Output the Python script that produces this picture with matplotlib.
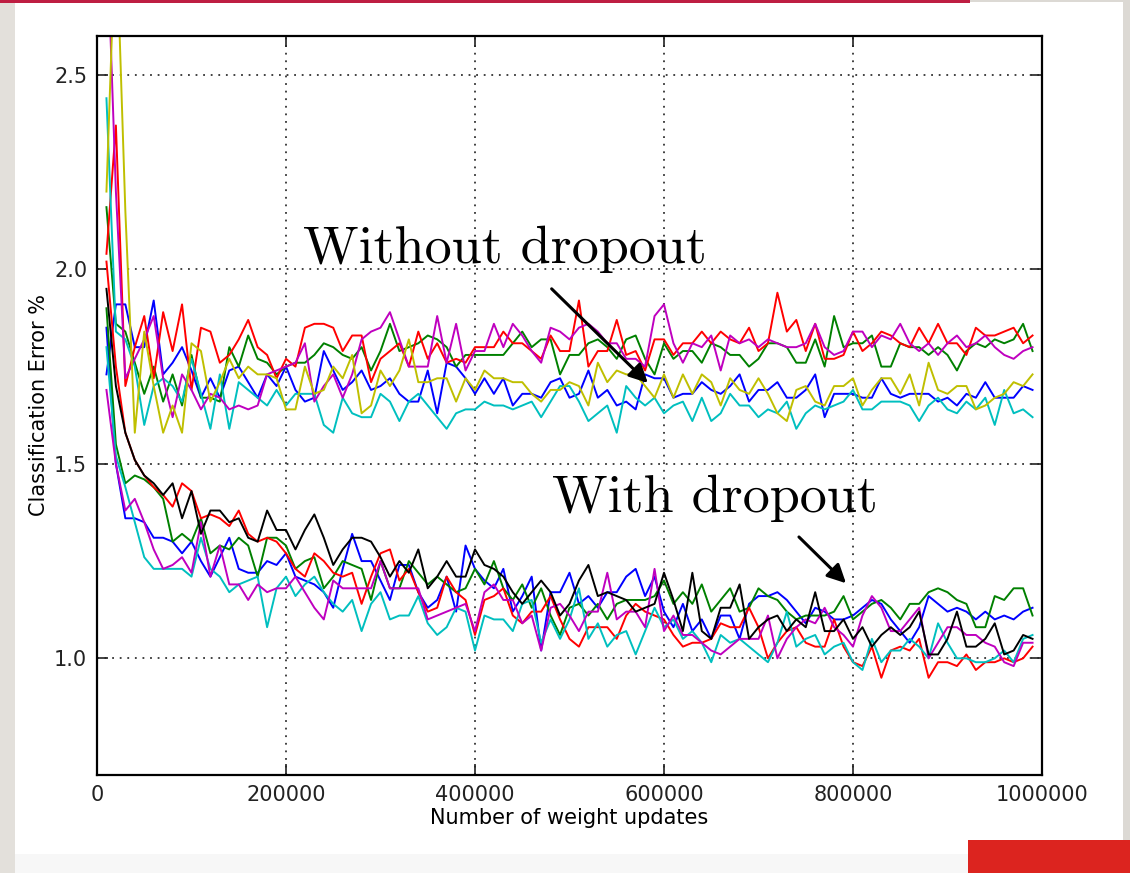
import numpy as np
import matplotlib
matplotlib.use("Agg")
import matplotlib.pyplot as plt
from matplotlib.patches import Rectangle
from matplotlib.ticker import FormatStrFormatter

# x positions: one evaluation every 10000 weight updates
updates = np.arange(10000, 1000000, 10000)

# ---- without dropout ----
wo_red = [2.04, 2.37, 1.70, 1.80, 1.88, 1.72, 1.89, 1.79, 1.91, 1.69,
          1.85, 1.84, 1.76, 1.78, 1.82, 1.87, 1.80, 1.78, 1.72, 1.77,
          1.75, 1.85, 1.86, 1.86, 1.85, 1.79, 1.83, 1.83, 1.71, 1.77,
          1.79, 1.81, 1.75, 1.84, 1.77, 1.81, 1.76, 1.77, 1.76, 1.80,
          1.80, 1.80, 1.84, 1.81, 1.81, 1.79, 1.77, 1.83, 1.79, 1.79,
          1.92, 1.75, 1.79, 1.79, 1.87, 1.78, 1.79, 1.74, 1.82, 1.82,
          1.78, 1.81, 1.81, 1.84, 1.81, 1.84, 1.82, 1.81, 1.85, 1.79,
          1.81, 1.94, 1.84, 1.87, 1.79, 1.86, 1.77, 1.77, 1.78, 1.84,
          1.79, 1.81, 1.84, 1.83, 1.81, 1.80, 1.85, 1.81, 1.86, 1.81,
          1.81, 1.78, 1.85, 1.83, 1.83, 1.84, 1.85, 1.81, 1.83]
wo_green = [2.16, 1.86, 1.84, 1.76, 1.68, 1.75, 1.66, 1.73, 1.65, 1.78,
            1.67, 1.67, 1.66, 1.80, 1.75, 1.83, 1.77, 1.76, 1.73, 1.75,
            1.76, 1.76, 1.78, 1.81, 1.80, 1.78, 1.77, 1.80, 1.74, 1.79,
            1.86, 1.79, 1.80, 1.81, 1.83, 1.82, 1.80, 1.75, 1.78, 1.78,
            1.78, 1.78, 1.78, 1.81, 1.84, 1.80, 1.82, 1.82, 1.73, 1.78,
            1.78, 1.81, 1.82, 1.80, 1.77, 1.82, 1.83, 1.77, 1.73, 1.81,
            1.77, 1.79, 1.79, 1.76, 1.81, 1.80, 1.78, 1.78, 1.75, 1.77,
            1.81, 1.81, 1.80, 1.76, 1.76, 1.82, 1.75, 1.88, 1.80, 1.81,
            1.81, 1.83, 1.75, 1.75, 1.81, 1.80, 1.80, 1.78, 1.80, 1.78,
            1.74, 1.79, 1.81, 1.80, 1.82, 1.81, 1.82, 1.86, 1.79]
wo_blue = [1.73, 1.91, 1.91, 1.80, 1.80, 1.92, 1.73, 1.76, 1.80, 1.74,
           1.67, 1.72, 1.67, 1.74, 1.75, 1.71, 1.67, 1.73, 1.70, 1.75,
           1.69, 1.66, 1.67, 1.79, 1.74, 1.69, 1.71, 1.74, 1.69, 1.70,
           1.72, 1.68, 1.66, 1.66, 1.74, 1.63, 1.76, 1.75, 1.72, 1.68,
           1.72, 1.68, 1.72, 1.65, 1.68, 1.68, 1.67, 1.71, 1.72, 1.67,
           1.68, 1.74, 1.67, 1.69, 1.65, 1.66, 1.64, 1.73, 1.72, 1.72,
           1.67, 1.68, 1.68, 1.71, 1.69, 1.68, 1.70, 1.73, 1.66, 1.69,
           1.69, 1.71, 1.67, 1.67, 1.69, 1.73, 1.62, 1.68, 1.68, 1.68,
           1.67, 1.67, 1.72, 1.68, 1.67, 1.68, 1.68, 1.68, 1.66, 1.67,
           1.65, 1.68, 1.67, 1.71, 1.67, 1.67, 1.67, 1.70, 1.69]
wo_cyan = [2.44, 1.84, 1.82, 1.75, 1.60, 1.70, 1.72, 1.70, 1.66, 1.77,
           1.68, 1.59, 1.73, 1.59, 1.71, 1.69, 1.67, 1.65, 1.69, 1.65,
           1.68, 1.68, 1.68, 1.60, 1.58, 1.67, 1.63, 1.62, 1.62, 1.68,
           1.66, 1.61, 1.66, 1.68, 1.65, 1.62, 1.59, 1.63, 1.64, 1.64,
           1.66, 1.65, 1.65, 1.64, 1.65, 1.66, 1.62, 1.66, 1.70, 1.70,
           1.66, 1.61, 1.63, 1.65, 1.58, 1.70, 1.67, 1.65, 1.67, 1.63,
           1.65, 1.66, 1.61, 1.67, 1.61, 1.63, 1.68, 1.65, 1.65, 1.62,
           1.64, 1.63, 1.66, 1.59, 1.63, 1.65, 1.64, 1.65, 1.66, 1.69,
           1.64, 1.64, 1.66, 1.66, 1.66, 1.65, 1.61, 1.65, 1.67, 1.64,
           1.63, 1.66, 1.64, 1.67, 1.60, 1.69, 1.63, 1.64, 1.62]
wo_magenta = [2.90, 2.20, 1.72, 1.77, 1.82, 1.88, 1.72, 1.62, 1.73, 1.69,
              1.64, 1.68, 1.67, 1.64, 1.65, 1.64, 1.65, 1.73, 1.74, 1.75,
              1.76, 1.81, 1.66, 1.70, 1.73, 1.67, 1.73, 1.82, 1.84, 1.85,
              1.89, 1.82, 1.75, 1.75, 1.75, 1.88, 1.76, 1.86, 1.74, 1.79,
              1.79, 1.86, 1.80, 1.86, 1.83, 1.79, 1.76, 1.85, 1.84, 1.82,
              1.85, 1.86, 1.84, 1.81, 1.81, 1.77, 1.77, 1.75, 1.88, 1.91,
              1.81, 1.76, 1.81, 1.80, 1.83, 1.74, 1.83, 1.81, 1.82, 1.80,
              1.82, 1.81, 1.80, 1.80, 1.81, 1.86, 1.80, 1.78, 1.79, 1.84,
              1.84, 1.80, 1.83, 1.82, 1.86, 1.81, 1.79, 1.81, 1.78, 1.81,
              1.83, 1.80, 1.81, 1.83, 1.80, 1.78, 1.77, 1.79, 1.80]
wo_yellow = [2.20, 2.90, 2.15, 1.58, 1.84, 1.70, 1.58, 1.65, 1.58, 1.81,
             1.79, 1.66, 1.71, 1.77, 1.72, 1.75, 1.73, 1.73, 1.72, 1.64,
             1.64, 1.75, 1.68, 1.69, 1.75, 1.72, 1.78, 1.63, 1.65, 1.74,
             1.70, 1.74, 1.82, 1.71, 1.71, 1.72, 1.72, 1.66, 1.72, 1.69,
             1.74, 1.72, 1.72, 1.71, 1.71, 1.68, 1.66, 1.69, 1.69, 1.71,
             1.70, 1.65, 1.76, 1.71, 1.74, 1.73, 1.73, 1.70, 1.67, 1.73,
             1.67, 1.73, 1.68, 1.73, 1.71, 1.65, 1.72, 1.69, 1.68, 1.72,
             1.68, 1.63, 1.61, 1.69, 1.70, 1.66, 1.65, 1.70, 1.70, 1.72,
             1.65, 1.69, 1.72, 1.72, 1.68, 1.73, 1.65, 1.76, 1.69, 1.68,
             1.70, 1.70, 1.64, 1.65, 1.67, 1.68, 1.71, 1.70, 1.73]

# ---- with dropout ----
wd_black = [1.95, 1.70, 1.58, 1.51, 1.47, 1.45, 1.42, 1.45, 1.36, 1.43,
            1.32, 1.38, 1.38, 1.35, 1.36, 1.31, 1.30, 1.38, 1.33, 1.33,
            1.28, 1.33, 1.37, 1.31, 1.24, 1.28, 1.31, 1.31, 1.30, 1.26,
            1.21, 1.25, 1.22, 1.28, 1.18, 1.21, 1.25, 1.21, 1.21, 1.28,
            1.24, 1.23, 1.21, 1.17, 1.14, 1.17, 1.20, 1.17, 1.11, 1.14,
            1.20, 1.24, 1.16, 1.17, 1.16, 1.15, 1.12, 1.13, 1.14, 1.22,
            1.15, 1.07, 1.22, 1.07, 1.05, 1.13, 1.13, 1.19, 1.05, 1.08,
            1.10, 1.11, 1.07, 1.10, 1.08, 1.17, 1.07, 1.07, 1.10, 1.05,
            1.08, 1.03, 1.06, 1.08, 1.06, 1.08, 1.12, 1.01, 1.01, 1.05,
            1.12, 1.03, 1.03, 1.05, 1.09, 1.01, 1.02, 1.06, 1.05]
wd_red = [2.02, 1.75, 1.58, 1.51, 1.47, 1.44, 1.42, 1.39, 1.45, 1.43,
          1.36, 1.37, 1.36, 1.34, 1.38, 1.32, 1.30, 1.31, 1.30, 1.27,
          1.23, 1.21, 1.27, 1.25, 1.22, 1.21, 1.22, 1.14, 1.21, 1.27,
          1.28, 1.20, 1.23, 1.17, 1.12, 1.13, 1.21, 1.17, 1.15, 1.06,
          1.15, 1.16, 1.18, 1.11, 1.09, 1.12, 1.12, 1.16, 1.10, 1.05,
          1.03, 1.08, 1.08, 1.08, 1.05, 1.11, 1.14, 1.12, 1.11, 1.10,
          1.06, 1.03, 1.04, 1.04, 1.05, 1.09, 1.08, 1.08, 1.13, 1.08,
          1.00, 1.04, 1.07, 1.08, 1.04, 1.03, 1.03, 1.10, 1.03, 0.99,
          0.98, 1.03, 0.95, 1.02, 1.03, 1.02, 1.05, 0.95, 0.99, 0.99,
          0.98, 1.01, 0.97, 0.99, 0.99, 1.00, 0.99, 1.00, 1.03]
wd_green = [1.90, 1.55, 1.45, 1.47, 1.46, 1.44, 1.41, 1.30, 1.32, 1.30,
            1.36, 1.27, 1.29, 1.28, 1.31, 1.29, 1.21, 1.31, 1.31, 1.29,
            1.23, 1.25, 1.26, 1.18, 1.21, 1.25, 1.24, 1.23, 1.15, 1.25,
            1.18, 1.18, 1.25, 1.22, 1.19, 1.21, 1.19, 1.17, 1.18, 1.23,
            1.19, 1.25, 1.18, 1.15, 1.19, 1.13, 1.18, 1.11, 1.06, 1.13,
            1.14, 1.11, 1.14, 1.10, 1.14, 1.15, 1.15, 1.15, 1.16, 1.20,
            1.14, 1.17, 1.14, 1.19, 1.12, 1.15, 1.18, 1.12, 1.13, 1.18,
            1.16, 1.15, 1.12, 1.10, 1.11, 1.11, 1.11, 1.12, 1.16, 1.10,
            1.12, 1.14, 1.15, 1.13, 1.10, 1.14, 1.14, 1.17, 1.18, 1.17,
            1.15, 1.14, 1.08, 1.08, 1.16, 1.15, 1.18, 1.18, 1.11]
wd_blue = [1.85, 1.50, 1.36, 1.36, 1.35, 1.31, 1.31, 1.30, 1.27, 1.30,
           1.25, 1.21, 1.26, 1.31, 1.23, 1.22, 1.22, 1.25, 1.24, 1.27,
           1.21, 1.20, 1.19, 1.17, 1.13, 1.23, 1.32, 1.25, 1.25, 1.20,
           1.15, 1.24, 1.24, 1.17, 1.13, 1.15, 1.21, 1.12, 1.29, 1.23,
           1.20, 1.18, 1.23, 1.12, 1.16, 1.21, 1.02, 1.17, 1.17, 1.22,
           1.14, 1.16, 1.13, 1.17, 1.17, 1.21, 1.23, 1.16, 1.21, 1.12,
           1.08, 1.14, 1.07, 1.10, 1.05, 1.11, 1.11, 1.05, 1.14, 1.16,
           1.16, 1.17, 1.15, 1.12, 1.09, 1.13, 1.12, 1.10, 1.10, 1.11,
           1.13, 1.15, 1.14, 1.10, 1.07, 1.04, 1.08, 1.16, 1.14, 1.12,
           1.13, 1.12, 1.10, 1.12, 1.10, 1.11, 1.10, 1.12, 1.13]
wd_magenta = [1.69, 1.50, 1.38, 1.41, 1.35, 1.28, 1.23, 1.24, 1.26, 1.22,
              1.35, 1.21, 1.29, 1.19, 1.19, 1.15, 1.19, 1.17, 1.18, 1.18,
              1.21, 1.17, 1.13, 1.10, 1.20, 1.18, 1.18, 1.18, 1.18, 1.25,
              1.18, 1.18, 1.18, 1.18, 1.10, 1.11, 1.12, 1.13, 1.14, 1.07,
              1.17, 1.19, 1.15, 1.15, 1.09, 1.11, 1.02, 1.13, 1.14, 1.11,
              1.07, 1.12, 1.12, 1.22, 1.10, 1.12, 1.12, 1.08, 1.23, 1.07,
              1.11, 1.06, 1.06, 1.04, 1.02, 1.01, 1.03, 1.05, 1.05, 1.05,
              1.11, 1.00, 1.05, 1.08, 1.10, 1.09, 1.13, 1.08, 1.06, 1.03,
              1.11, 1.16, 1.13, 1.07, 1.07, 1.10, 1.13, 1.00, 1.04, 1.08,
              1.08, 1.06, 1.06, 1.04, 1.03, 0.99, 0.98, 1.04, 1.04]
wd_cyan = [1.80, 1.52, 1.44, 1.35, 1.26, 1.23, 1.23, 1.23, 1.23, 1.21,
           1.31, 1.23, 1.21, 1.17, 1.19, 1.20, 1.21, 1.08, 1.18, 1.21,
           1.16, 1.19, 1.21, 1.17, 1.14, 1.12, 1.15, 1.07, 1.14, 1.17,
           1.10, 1.11, 1.11, 1.16, 1.09, 1.06, 1.08, 1.13, 1.12, 1.02,
           1.11, 1.10, 1.10, 1.07, 1.14, 1.15, 1.04, 1.10, 1.05, 1.10,
           1.18, 1.05, 1.09, 1.03, 1.06, 1.07, 1.01, 1.07, 1.13, 1.08,
           1.10, 1.05, 1.07, 1.04, 0.99, 1.06, 1.04, 1.05, 1.03, 1.01,
           0.99, 1.04, 1.12, 1.03, 1.05, 1.06, 1.01, 1.03, 1.04, 0.99,
           0.97, 1.05, 0.99, 1.02, 1.02, 1.05, 1.03, 1.00, 1.09, 1.04,
           1.00, 1.00, 0.99, 0.99, 1.00, 1.02, 0.99, 1.05, 1.06]

W, H = 1130, 873
fig = plt.figure(figsize=(W / 100, H / 100), dpi=100)


def px_rect(x0, y0, x1, y1, color):
    # rectangle given in image pixels (origin top-left)
    fig.add_artist(Rectangle((x0 / W, 1 - y1 / H), (x1 - x0) / W, (y1 - y0) / H,
                             transform=fig.transFigure, facecolor=color,
                             edgecolor="none", zorder=0))


# slide decoration around the chart
px_rect(0, 0, 15, H, "#e3e0db")
px_rect(15, 854, 968, H, "#f7f7f7")
px_rect(1123, 0, W, 840, "#dcd9d4")
px_rect(968, 0, W, 2, "#dcd9d4")
px_rect(0, 0, 970, 3, "#be1e42")
px_rect(968, 840, W, H, "#dc241f")

ax = fig.add_axes([97 / W, 98 / H, 945 / W, 739 / H])

lw = 1.4
for ys, c in [(wo_blue, "b"), (wo_green, "g"), (wo_red, "r"), (wo_cyan, "c"),
              (wo_magenta, "m"), (wo_yellow, "y")]:
    ax.plot(updates, ys, color=c, lw=lw)
for ys, c in [(wd_blue, "b"), (wd_green, "g"), (wd_red, "r"), (wd_cyan, "c"),
              (wd_magenta, "m"), (wd_black, "k")]:
    ax.plot(updates, ys, color=c, lw=lw)

ax.set_xlim(0, 1000000)
ax.set_ylim(0.7, 2.6)
ax.set_xticks([0, 200000, 400000, 600000, 800000, 1000000])
ax.set_yticks([1.0, 1.5, 2.0, 2.5])
ax.xaxis.set_major_formatter(FormatStrFormatter("%d"))
ax.yaxis.set_major_formatter(FormatStrFormatter("%.1f"))
ax.grid(True, color="#333333", linestyle=(0, (1, 3.2)), linewidth=1.3)
ax.tick_params(direction="in", length=8, width=1.2, top=True, right=True,
               labelsize=15, pad=7, colors="#222222")
for s in ax.spines.values():
    s.set_linewidth(1.6)
ax.set_xlabel("Number of weight updates", fontsize=15, labelpad=2)
ax.set_ylabel("Classification Error %", fontsize=15, labelpad=4)

ax.text(218000, 2.016, "Without dropout", fontfamily="cmr10", fontsize=39,
        ha="left", va="baseline")
ax.text(481500, 1.376, "With dropout", fontfamily="cmr10", fontsize=39,
        ha="left", va="baseline")
ax.annotate("", xy=(585000, 1.703), xytext=(479000, 1.955),
            arrowprops=dict(arrowstyle="-|>", color="black", lw=2.2,
                            mutation_scale=28))
ax.annotate("", xy=(794700, 1.188), xytext=(740700, 1.317),
            arrowprops=dict(arrowstyle="-|>", color="black", lw=2.2,
                            mutation_scale=28))

fig.savefig("out.png", dpi=100)
